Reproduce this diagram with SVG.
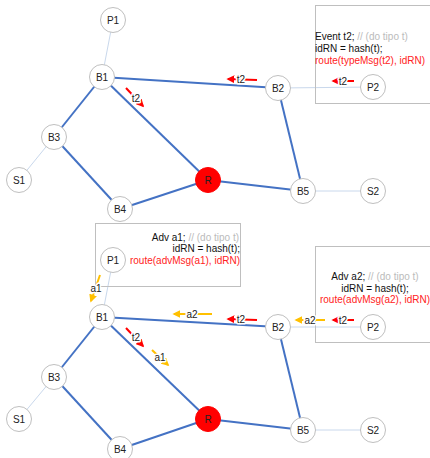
<svg xmlns="http://www.w3.org/2000/svg" width="430" height="458" viewBox="0 0 430 458">
<defs>
<style>
.e{stroke:#4472C4;stroke-width:2;fill:none}
.l{stroke:#C9D8EC;stroke-width:1;fill:none}
.n circle{fill:#fff;stroke:#BFBFBF;stroke-width:1}
.n text,.lb{font-family:"Liberation Sans",Arial,sans-serif;font-size:10px;fill:#222;text-anchor:middle}
.rn circle{fill:#FF0000;stroke:#FF0000}
.box{fill:none;stroke:#BFBFBF;stroke-width:1}
.code{font-family:"Liberation Sans",Arial,sans-serif;font-size:10px;fill:#111}
.cm{fill:#BBBBBB}
.rt{fill:#FF2222}
.ar{stroke:#FF0000;stroke-width:2;fill:none;marker-end:url(#mr)}
.ay{stroke:#FFC000;stroke-width:2;fill:none;marker-end:url(#my)}
.lb{paint-order:stroke;stroke:#fff;stroke-width:3px;stroke-linejoin:round}
</style>
<marker id="mr" viewBox="0 0 10 10" refX="8" refY="5" markerWidth="4" markerHeight="4" orient="auto"><path d="M0,0 L10,5 L0,10 z" fill="#FF0000"/></marker>
<marker id="my" viewBox="0 0 10 10" refX="8" refY="5" markerWidth="4" markerHeight="4" orient="auto"><path d="M0,0 L10,5 L0,10 z" fill="#FFC000"/></marker>
</defs>
<rect width="430" height="458" fill="#fff"/>

<g id="connectors">
<!-- top -->
<line class="l" x1="113" y1="20" x2="102" y2="77"/>
<line class="l" x1="54" y1="137" x2="19" y2="180"/>
<line class="l" x1="278" y1="88" x2="373" y2="87"/>
<line class="l" x1="303" y1="191" x2="373" y2="191"/>
<line class="e" x1="102" y1="77" x2="278" y2="88"/>
<line class="e" x1="102" y1="77" x2="54" y2="137"/>
<line class="e" x1="102" y1="77" x2="208" y2="180"/>
<line class="e" x1="54" y1="137" x2="120" y2="209"/>
<line class="e" x1="120" y1="209" x2="208" y2="180"/>
<line class="e" x1="208" y1="180" x2="303" y2="191"/>
<line class="e" x1="278" y1="88" x2="303" y2="191"/>
<!-- bottom -->
<line class="l" x1="113" y1="260" x2="102" y2="317"/>
<line class="l" x1="54" y1="377" x2="19" y2="419"/>
<line class="l" x1="278" y1="327" x2="373" y2="327"/>
<line class="l" x1="303" y1="430" x2="373" y2="430"/>
<line class="e" x1="102" y1="317" x2="278" y2="327"/>
<line class="e" x1="102" y1="317" x2="54" y2="377"/>
<line class="e" x1="102" y1="317" x2="208" y2="419"/>
<line class="e" x1="54" y1="377" x2="120" y2="449"/>
<line class="e" x1="120" y1="449" x2="208" y2="419"/>
<line class="e" x1="208" y1="419" x2="303" y2="430"/>
<line class="e" x1="278" y1="327" x2="303" y2="430"/>
</g>

<g id="box-top">
<rect class="box" x="315.5" y="5.5" width="120" height="98"/>
<text class="code" x="315" y="40">Event t2; <tspan class="cm">// (do tipo t)</tspan></text>
<text class="code" x="315" y="52">idRN = hash(t);</text>
<text class="code rt" x="315" y="64">route(typeMsg(t2), idRN)</text>
</g>
<g id="box-a1">
<rect class="box" x="95.5" y="223.5" width="145" height="63"/>
<text class="code" x="239" y="241" text-anchor="end">Adv a1; <tspan class="cm">// (do tipo t)</tspan></text>
<text class="code" x="240" y="252" text-anchor="end">idRN = hash(t);</text>
<text class="code rt" x="240" y="264" text-anchor="end">route(advMsg(a1), idRN)</text>
</g>
<g id="box-a2">
<rect class="box" x="315.5" y="246.5" width="120" height="96"/>
<text class="code" x="375" y="280" text-anchor="middle">Adv a2; <tspan class="cm">// (do tipo t)</tspan></text>
<text class="code" x="375" y="292" text-anchor="middle">idRN = hash(t);</text>
<text class="code rt" x="375" y="303" text-anchor="middle">route(advMsg(a2), idRN)</text>
</g>

<g id="messages">
<line class="ar" x1="126" y1="88" x2="143" y2="106"/><text class="lb" x="136" y="102">t2</text>
<line class="ar" x1="257" y1="80" x2="228" y2="79"/><text class="lb" x="241" y="83">t2</text>
<line class="ar" x1="354" y1="81" x2="333" y2="81"/><text class="lb" x="343" y="85">t2</text>

<line class="ay" x1="100" y1="275" x2="91" y2="301"/><text class="lb" x="96" y="292">a1</text>
<line class="ay" x1="212" y1="314" x2="174" y2="314"/><text class="lb" x="192" y="318">a2</text>
<line class="ar" x1="257" y1="320" x2="228" y2="319"/><text class="lb" x="241" y="323">t2</text>
<line class="ay" x1="325" y1="320" x2="296" y2="320"/><text class="lb" x="310" y="324">a2</text>
<line class="ar" x1="354" y1="320" x2="333" y2="320"/><text class="lb" x="343" y="324">t2</text>
<line class="ar" x1="126" y1="328" x2="143" y2="346"/><text class="lb" x="136" y="341">t2</text>
<line class="ay" x1="152" y1="350" x2="168" y2="365"/><text class="lb" x="160" y="361">a1</text>
</g>

<g id="t-P1" class="n"><circle cx="113" cy="20" r="12.5"/><text x="113" y="24">P1</text></g>
<g id="t-B1" class="n"><circle cx="102" cy="77" r="12.5"/><text x="102" y="81">B1</text></g>
<g id="t-B3" class="n"><circle cx="54" cy="137" r="12.5"/><text x="54" y="141">B3</text></g>
<g id="t-S1" class="n"><circle cx="19" cy="180" r="12.5"/><text x="19" y="184">S1</text></g>
<g id="t-B4" class="n"><circle cx="120" cy="209" r="12.5"/><text x="120" y="213">B4</text></g>
<g id="t-R" class="n rn"><circle cx="208" cy="180" r="12.5"/><text x="208" y="184">R</text></g>
<g id="t-B2" class="n"><circle cx="278" cy="88" r="12.5"/><text x="278" y="92">B2</text></g>
<g id="t-P2" class="n"><circle cx="373" cy="87" r="12.5"/><text x="373" y="91">P2</text></g>
<g id="t-B5" class="n"><circle cx="303" cy="191" r="12.5"/><text x="303" y="195">B5</text></g>
<g id="t-S2" class="n"><circle cx="373" cy="191" r="12.5"/><text x="373" y="195">S2</text></g>

<g id="b-P1" class="n"><circle cx="113" cy="260" r="12.5"/><text x="113" y="264">P1</text></g>
<g id="b-B1" class="n"><circle cx="102" cy="317" r="12.5"/><text x="102" y="321">B1</text></g>
<g id="b-B3" class="n"><circle cx="54" cy="377" r="12.5"/><text x="54" y="381">B3</text></g>
<g id="b-S1" class="n"><circle cx="19" cy="419" r="12.5"/><text x="19" y="423">S1</text></g>
<g id="b-B4" class="n"><circle cx="120" cy="449" r="12.5"/><text x="120" y="453">B4</text></g>
<g id="b-R" class="n rn"><circle cx="208" cy="419" r="12.5"/><text x="208" y="423">R</text></g>
<g id="b-B2" class="n"><circle cx="278" cy="327" r="12.5"/><text x="278" y="331">B2</text></g>
<g id="b-P2" class="n"><circle cx="373" cy="327" r="12.5"/><text x="373" y="331">P2</text></g>
<g id="b-B5" class="n"><circle cx="303" cy="430" r="12.5"/><text x="303" y="434">B5</text></g>
<g id="b-S2" class="n"><circle cx="373" cy="430" r="12.5"/><text x="373" y="434">S2</text></g>
</svg>
